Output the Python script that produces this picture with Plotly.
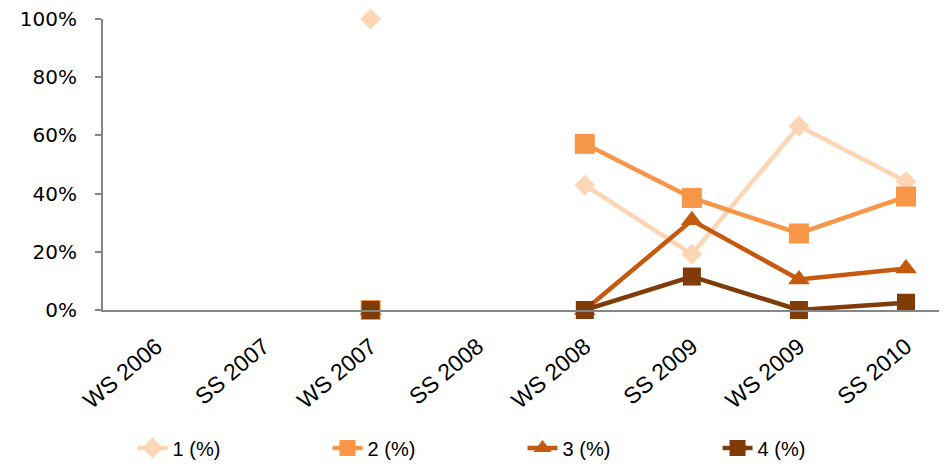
import plotly.graph_objects as go

categories = ["WS 2006", "SS 2007", "WS 2007", "SS 2008", "WS 2008", "SS 2009", "WS 2009", "SS 2010"]
s1 = [None, None, 1.00, None, 0.429, 0.192, 0.632, 0.442]
s2 = [None, None, 0.00, None, 0.571, 0.385, 0.263, 0.390]
s3 = [None, None, 0.00, None, 0.000, 0.308, 0.105, 0.143]
s4 = [None, None, 0.00, None, 0.000, 0.115, 0.000, 0.025]
names = ["1 (%)", "2 (%)", "3 (%)", "4 (%)"]
y_ticks = [0, 0.2, 0.4, 0.6, 0.8, 1.0]

colors = ["#FCD5B5", "#F79646", "#C55A0F", "#7F3B08"]
symbols = ["diamond", "square", "triangle-up", "square"]
sizes = [16, 20, 19, 18]

fig = go.Figure()
for vals, name, c, sym, sz in zip([s1, s2, s3, s4], names, colors, symbols, sizes):
    fig.add_trace(go.Scatter(
        x=categories, y=vals, name=name, mode="lines+markers",
        line=dict(color=c, width=4.5),
        marker=dict(symbol=sym, size=sz, color=c, line=dict(width=0)),
        cliponaxis=False,
    ))

fig.update_layout(
    width=947, height=466,
    margin=dict(l=95, r=8, t=11, b=163),
    plot_bgcolor="white", paper_bgcolor="white",
    showlegend=True,
    legend=dict(orientation="h", x=0.035, xanchor="left", y=-0.469, yanchor="middle",
                font=dict(family="Liberation Sans", size=20, color="#000000"),
                entrywidth=150, entrywidthmode="pixels", itemwidth=30),
    xaxis=dict(
        type="category", categoryorder="array", categoryarray=categories,
        range=[-0.5, 7.383], automargin=False,
        showline=True, linecolor="#868686", linewidth=2,
        showgrid=False, ticks="", tickangle=-40, ticklabelstandoff=12,
        tickfont=dict(family="Liberation Sans", size=23, color="#000000"),
    ),
    yaxis=dict(
        range=[0, 1], tickvals=y_ticks, tickformat=".0%", automargin=False,
        showline=True, linecolor="#868686", linewidth=2,
        showgrid=False, zeroline=False, ticks="outside", ticklen=6, tickcolor="#868686", tickwidth=2,
        ticklabelstandoff=14, ticklabeloverflow="allow",
        tickfont=dict(family="DejaVu Sans", size=20, color="#000000"),
    ),
)

fig.write_html("out.html")
